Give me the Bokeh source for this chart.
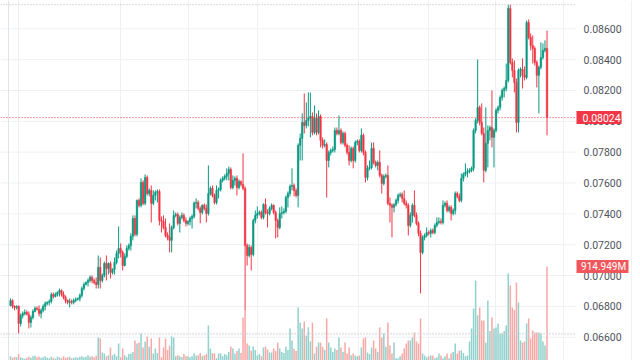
from bokeh.plotting import figure
from bokeh.models import ColumnDataSource, Range1d, FixedTicker, Span
from bokeh.core.properties import value
from bokeh.embed import file_html
from bokeh.resources import INLINE

# prices in units of 0.00001
open_1e5 = [
6806,6838,6800,6793,6800,6689,6741,6754,6761,6748,6696,6728,
6767,6787,6780,6754,6774,6800,6819,6826,6832,6877,6864,6877,6890,
6903,6877,6858,6838,6826,6832,6826,6838,6845,6851,6871,6916,6942,
6955,6968,6988,6968,6955,6942,7053,6968,7001,7078,7046,
7078,7020,7040,7085,7143,7176,7150,7065,7124,7176,7195,7254,
7370,7267,7487,7455,7604,7468,7636,7532,7552,7468,7519,
7539,7545,7357,7351,7312,7260,7247,7228,7312,7390,7396,
7338,7377,7390,7357,7338,7351,7370,7383,7468,7474,7435,
7409,7455,7435,7403,7532,7565,7519,7474,7552,7558,7617,7630,
7643,7662,7688,7571,7617,7630,7571,7610,7591,7565,
7195,7130,7182,7137,7357,7390,7403,7409,7377,7461,
7409,7403,7435,7455,7409,7357,7312,7403,7409,7416,
7506,7532,7578,7584,7552,7519,7844,7889,7993,7973,
8006,8019,8032,7928,8019,7928,8032,7876,7844,7850,
7746,7798,7811,7818,7941,7921,7941,7863,7921,7844,
7798,7746,7824,7746,7863,7870,7811,7909,7798,7636,
7695,7701,7824,7733,7714,7733,7649,7597,7643,7649,
7468,7455,7442,7461,7487,7519,7526,7500,7468,7455,
7325,7390,7455,7390,7338,7273,7150,7247,7260,7279,
7273,7292,7279,7325,7344,7351,7344,7455,7468,7422,
7442,7403,7422,7532,7513,7487,7630,7656,7669,7675,
7682,7695,7941,8006,8090,7993,7921,7682,7857,7941,
7960,7896,7941,8071,8090,8155,8200,8213,8265,8732,
8382,8330,8252,7993,8330,8337,8298,8285,8641,8544,
8492,8473,8382,8298,8350,8414,8460,8473]

high_1e5 = [
6851,6845,6806,6806,6806,6754,6767,6780,6774,6767,6741,6780,
6800,6800,6806,6787,6813,6832,6832,6845,6890,6890,6890,6897,6916,
6910,6897,6871,6845,6851,6845,6851,6858,6858,6884,6929,6955,6961,
6981,7001,7001,6981,6988,7130,7117,7014,7091,7130,7085,
7091,7046,7117,7162,7318,7208,7162,7143,7195,7208,7273,7390,
7390,7493,7500,7630,7617,7656,7649,7565,7584,7552,7552,
7558,7558,7383,7390,7370,7280,7338,7325,7422,7409,7409,
7390,7409,7403,7377,7357,7383,7396,7481,7500,7487,7448,
7461,7468,7461,7714,7578,7584,7532,7584,7571,7630,7643,7656,
7695,7707,7701,7649,7643,7649,7623,7617,7792,7578,
7208,7202,7195,7370,7422,7448,7422,7422,7468,7500,
7429,7448,7468,7461,7422,7370,7442,7448,7435,7519,
7545,7591,7695,7597,7565,7857,7921,8051,8181,8123,
8187,8187,8058,8103,8051,8071,8045,7896,7883,7863,
7811,7824,7837,7960,7960,8038,7954,7934,7934,7857,
7844,7837,7837,7876,7883,7883,7954,7921,7811,7714,
7746,7863,7863,7746,7746,7811,7662,7656,7662,7714,
7506,7468,7468,7500,7532,7539,7539,7552,7487,7468,
7409,7468,7552,7409,7351,7292,7260,7273,7312,7292,
7305,7305,7338,7377,7377,7370,7487,7481,7487,7455,
7455,7435,7545,7545,7532,7662,7669,7727,7695,7695,
7707,7954,8019,8401,8103,8116,7960,8090,7973,7973,
8200,7954,8084,8103,8168,8213,8226,8375,8756,8756,
8408,8395,8278,8343,8350,8408,8356,8654,8661,8570,
8557,8486,8395,8362,8512,8505,8525,8589]

low_1e5 = [
6800,6787,6774,6780,6622,6670,6722,6741,6741,6657,6663,6715,
6761,6774,6735,6722,6761,6774,6806,6806,6819,6851,6858,6864,6864,
6864,6845,6819,6813,6793,6813,6813,6826,6838,6832,6858,6903,6936,
6929,6955,6949,6942,6916,6916,6916,6955,6988,6968,7007,
6981,7007,7007,7072,7111,7117,7033,7059,7111,7162,7162,7228,
7254,7254,7442,7442,7455,7455,7519,7513,7344,7455,7487,
7474,7325,7279,7299,7247,7228,7150,7150,7299,7377,7325,
7279,7364,7344,7318,7325,7325,7305,7370,7435,7422,7338,
7396,7422,7344,7390,7519,7506,7461,7461,7500,7545,7604,7617,
7617,7617,7558,7558,7584,7519,7558,7578,7552,6774,
7065,7117,7033,7124,7338,7370,7390,7364,7364,7396,
7312,7390,7422,7396,7241,7247,7299,7370,7396,7403,
7442,7513,7552,7513,7506,7442,7746,7746,7921,7954,
7967,7896,7909,7915,7909,7915,7831,7824,7831,7506,
7701,7779,7798,7798,7909,7909,7850,7850,7831,7785,
7714,7733,7695,7733,7844,7798,7798,7779,7604,7617,
7682,7688,7720,7701,7682,7636,7532,7584,7630,7455,
7344,7247,7409,7448,7468,7506,7474,7455,7435,7260,
7312,7344,7377,7325,7254,6884,7137,7228,7247,7260,
7247,7267,7267,7312,7331,7331,7331,7442,7409,7409,
7357,7390,7396,7500,7474,7474,7610,7643,7636,7662,
7669,7675,7921,7986,7973,7909,7604,7669,7701,7876,
7831,7701,7928,8051,8071,8135,8155,8194,8252,8369,
8285,8187,7928,7928,8285,8213,8265,8272,8531,8460,
8375,8362,8220,8051,8337,8401,8447,7909]

close_1e5 = [
6838,6800,6793,6800,6689,6741,6754,6761,6748,6696,6728,6767,
6787,6780,6754,6774,6800,6819,6826,6832,6877,6864,6877,6890,6903,
6877,6858,6838,6826,6832,6826,6838,6845,6851,6871,6916,6942,6955,
6968,6988,6968,6955,6942,7053,6968,7001,7078,7046,7078,
7020,7040,7085,7143,7176,7150,7065,7124,7176,7195,7254,7370,
7267,7487,7455,7604,7468,7636,7532,7552,7468,7519,7539,
7545,7357,7351,7312,7260,7247,7228,7312,7390,7396,7338,
7377,7390,7357,7338,7351,7370,7383,7468,7474,7435,7409,
7455,7435,7403,7532,7565,7519,7474,7552,7558,7617,7630,7643,
7662,7688,7571,7617,7630,7571,7610,7591,7565,7195,
7130,7182,7137,7357,7390,7403,7409,7377,7461,7409,
7403,7435,7455,7409,7357,7312,7403,7409,7416,7506,
7532,7578,7584,7552,7519,7844,7889,7993,7973,8006,
8019,8032,7928,8019,7928,8032,7876,7844,7850,7746,
7798,7811,7818,7941,7921,7941,7863,7921,7844,7798,
7746,7824,7746,7863,7870,7811,7909,7798,7636,7695,
7701,7824,7733,7714,7733,7649,7597,7643,7649,7468,
7455,7442,7461,7487,7519,7526,7500,7468,7455,7325,
7390,7455,7390,7338,7273,7150,7247,7260,7279,7273,
7292,7279,7325,7344,7351,7344,7455,7468,7422,7442,
7403,7422,7532,7513,7487,7630,7656,7669,7675,7682,
7695,7941,8006,8090,7993,7921,7682,7857,7941,7960,
7896,7941,8071,8090,8155,8200,8213,8265,8732,8382,
8330,8252,7993,8330,8337,8298,8285,8641,8544,8492,
8473,8382,8298,8350,8414,8460,8473,8024]

# volume in millions
volume_m = [
60,45,55,50,80,50,40,35,45,55,45,60,
65,50,55,45,50,60,45,40,55,45,35,55,50,
40,60,45,50,55,40,45,50,45,55,60,50,55,
70,55,60,50,65,238,229,95,86,60,70,
143,70,80,60,181,50,133,70,50,80,86,100,
210,181,190,276,143,200,248,150,229,86,133,
90,238,50,143,229,120,160,248,238,60,70,
60,50,80,60,60,50,60,86,67,70,90,
60,70,80,353,133,90,86,40,86,86,60,80,
70,100,152,133,86,110,133,90,429,496,
181,162,114,152,120,67,80,60,143,152,
124,95,95,133,110,190,133,100,90,150,
120,324,210,130,110,524,381,324,391,257,
334,200,381,86,150,190,190,150,120,419,
190,143,100,133,120,238,143,100,190,86,
143,70,86,67,60,67,143,229,238,95,
80,143,210,133,100,334,238,276,150,381,
162,86,190,40,40,60,86,133,181,210,
210,238,286,200,181,419,86,67,50,60,
67,67,40,50,86,67,40,60,86,40,
86,100,181,86,114,114,90,60,67,200,
324,515,781,450,524,400,400,190,591,300,
429,324,334,372,276,276,300,353,848,734,
524,500,762,572,210,190,200,372,419,229,
305,286,286,286,276,200,162,914.949]

price_ticks = [0.066, 0.068, 0.070, 0.072, 0.074, 0.076, 0.078, 0.080, 0.082, 0.084, 0.086]
last_price = 0.08024
last_volume = 914.949
max_high = 0.08756
min_low = 0.06622
time_grid = [3.92, 53.92, 87.25, 121.08, 170.59, 204.90, 237.75, 271.08]

UP = "#089981"
DOWN = "#F23645"
UP_VOL = "#92D2CC"
DOWN_VOL = "#F7A9A7"
GRID = "#EEF0F4"
TEXT = "#50535E"
FONT = value("Roboto")

# layout (data-x of pane edges / price scale column)
X0, X_PANE_END, X_END = -4.902, 276.96, 304.902
X_LABEL = 280.88

o = [v / 1e5 for v in open_1e5]
h = [v / 1e5 for v in high_1e5]
l = [v / 1e5 for v in low_1e5]
c = [v / 1e5 for v in close_1e5]
n = len(c)
idx = list(range(n))
is_up = [c[i] >= o[i] for i in range(n)]

src = ColumnDataSource(dict(
    x=idx, o=o, h=h, l=l, c=c,
    top=[max(o[i], c[i]) for i in range(n)],
    bottom=[min(o[i], c[i]) for i in range(n)],
    color=[UP if u else DOWN for u in is_up],
    vcolor=[UP_VOL if u else DOWN_VOL for u in is_up],
    vol=volume_m,
))

p = figure(frame_width=632, frame_height=360, output_backend="svg", toolbar_location=None,
           x_range=Range1d(X0, X_END), y_range=Range1d(0.064489, 0.087835),
           x_axis_location=None, y_axis_location=None,
           min_border_left=0, min_border_top=0, min_border_bottom=0, min_border_right=0)
p.extra_y_ranges = {"vol": Range1d(19.06, 3449.9)}
p.outline_line_color = None
p.background_fill_color = "white"
p.ygrid.visible = False
p.xgrid.ticker = FixedTicker(ticks=time_grid)
p.xgrid.grid_line_color = GRID

# horizontal price grid, only across the chart pane
p.segment(x0=[X0] * len(price_ticks), y0=price_ticks, x1=[X_PANE_END] * len(price_ticks), y1=price_ticks,
          line_color=GRID, line_width=1)

# pane borders
p.add_layout(Span(location=-0.98, dimension="height", line_color="#E0E3EB", line_width=1))
p.add_layout(Span(location=304.66, dimension="height", line_color="#E0E3EB", line_width=1))

# volume
p.vbar(x="x", width=0.75, top="vol", bottom=0, y_range_name="vol", source=src,
       fill_color="vcolor", line_color=None)

# candles
p.segment(x0="x", y0="l", x1="x", y1="h", source=src, line_color="color", line_width=1)
p.vbar(x="x", width=0.75, top="top", bottom="bottom", source=src,
       fill_color="color", line_color="color", line_width=0.5)

# price lines
p.segment(x0=[X0], y0=[last_price], x1=[X_PANE_END], y1=[last_price], line_color=DOWN, line_width=1, line_dash="1 2")
p.segment(x0=[X0], y0=[max_high], x1=[X_PANE_END], y1=[max_high], line_color="#B2B5BE", line_width=1, line_dash="1 2")
p.segment(x0=[X0], y0=[min_low], x1=[X_PANE_END], y1=[min_low], line_color="#CDD0D6", line_width=2, line_dash="1 2")

# price scale labels
p.text(x=[X_LABEL] * len(price_ticks), y=price_ticks, text=[f"{t:.5f}" for t in price_ticks],
       text_font=FONT, text_font_size=value("10.5px"), text_color=TEXT,
       text_baseline="middle", text_align="left")

# last price / last volume badges
p.rect(x=[288.48], y=[last_price], width=45, height=13, width_units="screen", height_units="screen",
       fill_color=DOWN, line_color=None)
p.text(x=[X_LABEL - 0.5], y=[last_price], text=[f"{last_price:.5f}"],
       text_font=FONT, text_font_size=value("10.5px"), text_color="white",
       text_baseline="middle", text_align="left")
p.rect(x=[290.2], y=[last_volume], y_range_name="vol", width=52, height=13,
       width_units="screen", height_units="screen", fill_color="#F0575C", line_color=None)
p.text(x=[X_LABEL - 1.2], y=[last_volume], y_range_name="vol", text=[f"{last_volume:.3f}M"],
       text_font=FONT, text_font_size=value("10px"), text_color="white",
       text_baseline="middle", text_align="left")

open("out.html", "w").write(file_html(p, INLINE))
